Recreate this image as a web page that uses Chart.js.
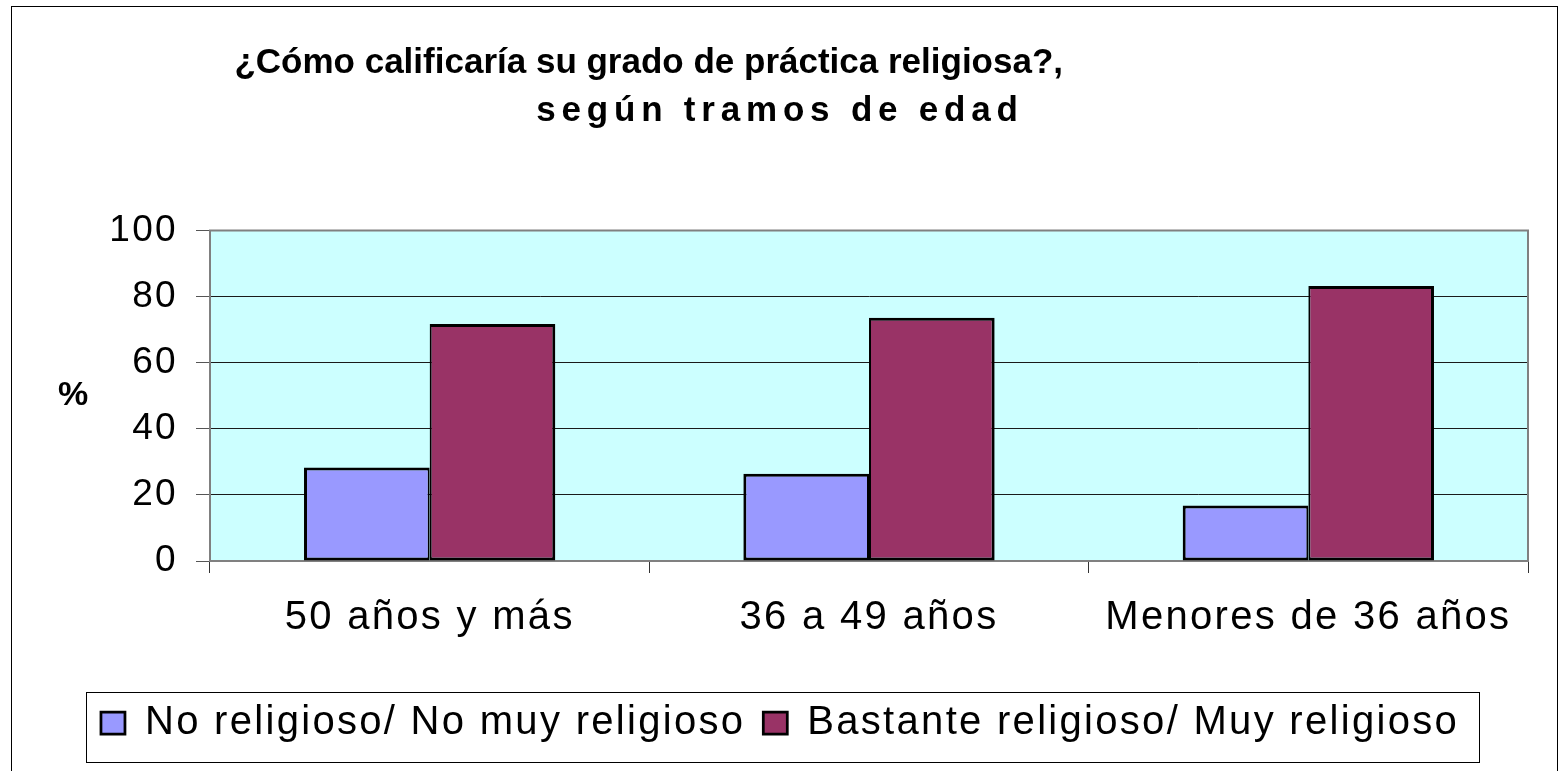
<!DOCTYPE html>
<html><head><meta charset="utf-8">
<script src="https://cdn.jsdelivr.net/npm/chart.js@4.4.1/dist/chart.umd.min.js"></script>
<style>
html,body{margin:0;padding:0;background:#fff;overflow:hidden;}
#wrap{position:relative;width:1560px;height:771px;}
#frame{position:absolute;left:11px;top:6px;width:1545px;height:800px;border:1px solid #000;pointer-events:none;}
</style></head><body>
<div id="wrap"><canvas id="c"></canvas><div id="frame"></div></div>
<script>
const titleLine1 = '¿Cómo calificaría su grado de práctica religiosa?,';
const titleLine2 = 'según tramos de edad';
const categories = ['50 años y más', '36 a 49 años', 'Menores de 36 años'];
const seriesNames = ['No religioso/ No muy religioso', 'Bastante religioso/ Muy religioso'];
const noReligioso = [28.3, 26.4, 16.8];
const religioso = [71.7, 73.6, 83.2];
const yTicks = [0, 20, 40, 60, 80, 100];
const yAxisLabel = '%';

const FONT = "'Liberation Sans', Arial, Helvetica, sans-serif";
Chart.defaults.font.family = FONT;
Chart.defaults.color = '#000';

const BASE_LS = '2.3px';

const stylePlugin = {
  id: 'stylePlugin',
  beforeLayout(chart) { chart.ctx.letterSpacing = BASE_LS; },
  afterLayout(chart) {
    chart.boxes.forEach(b => {
      if (b._wrappedLS || !b.options || b.options.text === undefined) return;
      const txt = [].concat(b.options.text).join('');
      let sp = null;
      if (txt.startsWith(titleLine1)) sp = '0px';
      else if (txt === titleLine2) sp = '5.8px';
      if (!sp) return;
      const orig = b.draw.bind(b);
      b.draw = function (area) {
        const c = chart.ctx; const prev = c.letterSpacing;
        c.letterSpacing = sp; orig(area); c.letterSpacing = prev;
      };
      b._wrappedLS = true;
    });
  },
  beforeDraw(chart) {
    const {ctx, chartArea: a} = chart;
    ctx.letterSpacing = BASE_LS;
    ctx.save();
    ctx.fillStyle = '#CCFFFF';
    ctx.fillRect(a.left, a.top, a.right - a.left, a.bottom - a.top);
    ctx.restore();
  },
  beforeDatasetsDraw(chart) {
    const {ctx, chartArea: a} = chart;
    ctx.save();
    ctx.strokeStyle = '#808080';
    ctx.lineWidth = 2;
    ctx.strokeRect(a.left, a.top, a.right - a.left, a.bottom - a.top);
    ctx.restore();
  },
  afterDraw(chart) {
    const {ctx, chartArea: a} = chart;
    ctx.save();
    ctx.letterSpacing = '0px';
    ctx.font = 'bold 34px ' + FONT;
    ctx.fillStyle = '#000';
    ctx.textAlign = 'center';
    ctx.textBaseline = 'middle';
    ctx.fillText(yAxisLabel, a.left - 137, (a.top + a.bottom) / 2);
    const hb = chart.legend.legendHitBoxes;
    if (hb && hb.length) {
      const l = Math.min(...hb.map(h => h.left)) - 15;
      const r = Math.max(...hb.map(h => h.left + h.width)) + 20;
      const mid = hb[0].top + hb[0].height / 2;
      ctx.strokeStyle = '#000';
      ctx.lineWidth = 1;
      ctx.strokeRect(Math.round(l) + 0.5, Math.round(mid - 31) + 0.5, Math.round(r - l), 70);
    }
    ctx.restore();
  }
};

new Chart(document.getElementById('c'), {
  type: 'bar',
  data: {
    labels: categories,
    datasets: [
      { label: seriesNames[0], data: noReligioso, backgroundColor: '#9999FF', borderColor: '#000',
        borderWidth: {top: 3, left: 3, bottom: 3, right: 2}, borderSkipped: false,
        categoryPercentage: 0.572, barPercentage: 1, yAxisID: 'y' },
      { label: seriesNames[1], data: religioso, backgroundColor: '#993366', borderColor: '#000',
        borderWidth: {top: 3, left: 2, bottom: 3, right: 3}, borderSkipped: false,
        categoryPercentage: 0.572, barPercentage: 1, yAxisID: 'y' }
    ]
  },
  options: {
    responsive: true,
    maintainAspectRatio: false,
    animation: false,
    layout: { padding: {left: 0, right: 0, top: 0, bottom: 18} },
    scales: {
      x: {
        grid: { display: true, drawOnChartArea: false, drawTicks: true, tickLength: 12, color: '#333', lineWidth: 1, offset: true },
        border: { display: true, color: '#808080', width: 2 },
        ticks: { font: {size: 40}, color: '#000', padding: 21, maxRotation: 0, autoSkip: false },
        afterFit(s) { s.height = 124; }
      },
      y: {
        position: 'left',
        min: yTicks[0], max: yTicks[yTicks.length - 1],
        ticks: { stepSize: yTicks[1] - yTicks[0], font: {size: 37}, color: '#000', padding: 18 },
        grid: {
          color: c => (c.tick && (c.tick.value === 0 || c.tick.value === 100)) ? '#808080' : '#1a1a1a',
          tickColor: '#555', lineWidth: 1, tickLength: 14, drawTicks: true
        },
        border: { display: true, color: '#555', width: 2 },
        afterFit(s) { s.width = 210; }
      },
      yRight: {
        position: 'right', display: true,
        grid: { display: false, drawTicks: false },
        border: { display: false },
        ticks: { display: false },
        afterFit(s) { s.width = 32; }
      }
    },
    plugins: {
      title: { display: true, text: titleLine1 + '\u00A0'.repeat(27), font: {size: 35, weight: 'bold', lineHeight: 1.35}, color: '#000', padding: {top: 40, bottom: 0} },
      subtitle: { display: true, text: titleLine2, font: {size: 35, weight: 'bold', lineHeight: 1.35}, color: '#000', padding: {top: 0, bottom: 96} },
      legend: { display: true, position: 'bottom', labels: { font: {size: 40}, color: '#000', boxWidth: 24, boxHeight: 22, padding: 18 } },
      tooltip: { enabled: false }
    }
  },
  plugins: [stylePlugin]
});
</script>
</body></html>
